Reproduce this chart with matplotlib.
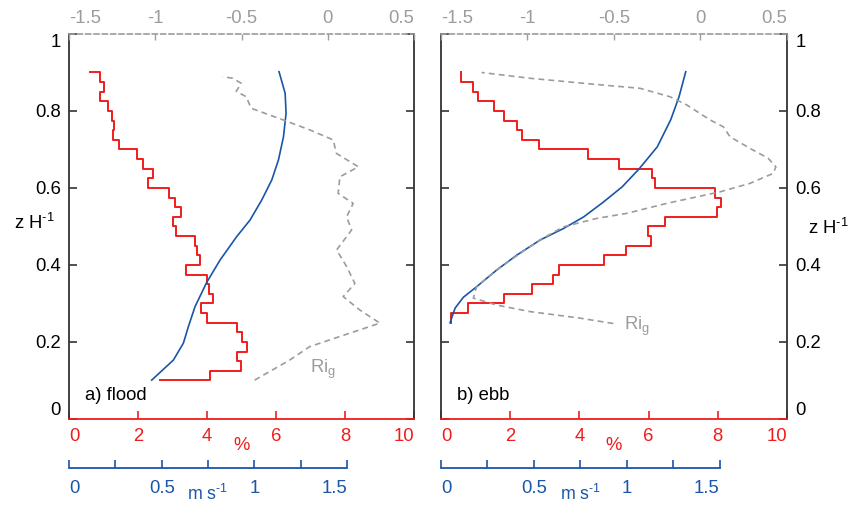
import matplotlib
matplotlib.use("Agg")
import matplotlib.pyplot as plt

plt.rcParams['font.family'] = ['Liberation Sans', 'DejaVu Sans']
plt.rcParams['mathtext.default'] = 'regular'
plt.rcParams['font.size'] = 13.3

RED = '#f01c1c'
BLUE = '#1a55a8'
GRAY = '#9c9c9c'
DARK = '#333333'
SUP = '$^{\u2010 1}$'  # short hyphen, like the original "-1"

# ---- a) flood ----
flood_pct = [0.61, 0.90, 1.01, 0.90, 1.14, 1.24, 1.31, 1.28, 1.46, 1.96, 2.15,
             2.42, 2.30, 2.91, 3.07, 3.24, 3.02, 3.10, 3.65, 3.70, 3.80, 3.39,
             3.99, 4.07, 4.16, 3.82, 4.01, 4.86, 5.02, 5.17, 4.88, 4.98, 4.09, 2.64]
flood_pct_z = [0.900, 0.875, 0.850, 0.825, 0.800, 0.775, 0.750, 0.725, 0.700,
               0.675, 0.650, 0.625, 0.600, 0.575, 0.550, 0.525, 0.500, 0.475,
               0.450, 0.425, 0.400, 0.375, 0.350, 0.325, 0.300, 0.275, 0.250,
               0.225, 0.200, 0.175, 0.150, 0.125, 0.100, 0.100]

flood_u = [0.446, 0.563, 0.617, 0.644, 0.680, 0.743, 0.815, 0.905, 0.977,
           1.040, 1.094, 1.130, 1.157, 1.171, 1.166, 1.133]
flood_u_z = [0.101, 0.153, 0.197, 0.240, 0.292, 0.355, 0.413, 0.474, 0.517,
             0.569, 0.621, 0.673, 0.733, 0.794, 0.846, 0.902]

flood_ri = [-0.424, -0.221, -0.105, 0.128, 0.302, 0.186, 0.089, 0.157, 0.109,
            0.051, 0.138, 0.109, 0.147, 0.060, 0.070, 0.177, 0.050, 0.031,
            -0.105, -0.260, -0.444, -0.473, -0.531, -0.502, -0.551, -0.609]
flood_ri_z = [0.101, 0.153, 0.188, 0.223, 0.249, 0.283, 0.318, 0.352, 0.396,
              0.439, 0.491, 0.525, 0.560, 0.586, 0.629, 0.655, 0.690, 0.725,
              0.751, 0.777, 0.807, 0.837, 0.851, 0.872, 0.885, 0.889]

# ---- b) ebb ----
ebb_pct = [0.57, 0.92, 1.06, 1.53, 1.82, 2.19, 2.33, 2.83, 4.24, 5.15, 6.11,
           6.20, 7.92, 8.08, 7.99, 6.47, 5.97, 6.07, 5.35, 4.71, 3.42, 3.25,
           2.62, 1.82, 0.79, 0.28, 0.28]
ebb_pct_z = [0.900, 0.875, 0.850, 0.825, 0.800, 0.775, 0.750, 0.725, 0.700,
             0.675, 0.650, 0.625, 0.600, 0.575, 0.550, 0.525, 0.500, 0.475,
             0.450, 0.425, 0.400, 0.375, 0.350, 0.325, 0.300, 0.275, 0.250]

ebb_u = [0.049, 0.076, 0.120, 0.193, 0.300, 0.409, 0.534, 0.660, 0.768, 0.870,
         0.975, 1.065, 1.164, 1.236, 1.281, 1.317]
ebb_u_z = [0.250, 0.288, 0.316, 0.344, 0.387, 0.426, 0.465, 0.495, 0.525, 0.562,
           0.603, 0.649, 0.707, 0.777, 0.837, 0.902]

ebb_ri = [-0.504, -0.697, -0.986, -1.178, -1.313, -1.294, -1.178, -1.043, -0.928,
          -0.793, -0.600, -0.427, -0.195, 0.113, 0.286, 0.421, 0.436, 0.392,
          0.286, 0.171, 0.132, 0.055, -0.080, -0.176, -0.350, -0.581, -0.986, -1.265]
ebb_ri_z = [0.248, 0.262, 0.279, 0.296, 0.314, 0.344, 0.387, 0.430, 0.465,
            0.499, 0.521, 0.534, 0.560, 0.590, 0.612, 0.638, 0.655, 0.677,
            0.703, 0.733, 0.759, 0.777, 0.816, 0.837, 0.859, 0.868, 0.885, 0.900]

pct_ticks = [0, 2, 4, 6, 8, 10]
u_ticks = [0, 0.25, 0.5, 0.75, 1, 1.25, 1.5]
u_labels = ['0', '', '0.5', '', '1', '', '1.5']
ri_ticks = [-1.5, -1, -0.5, 0, 0.5]
z_ticks = [0, 0.2, 0.4, 0.6, 0.8, 1]


def end_align(labels, first, last):
    labels[0].set_ha(first)
    labels[-1].set_ha(last)


def panel(rect, pct, pct_z, step, u, u_z, ri, ri_z, name, ri_pos, right_labels):
    ax = fig.add_axes(rect)
    ax.plot(pct, pct_z, color=RED, lw=1.4, drawstyle=step)
    ax.set_xlim(0, 10)
    ax.set_ylim(0, 1)
    ax.set_xticks(pct_ticks, [str(t) for t in pct_ticks])
    ax.tick_params(axis='x', direction='in', length=6, width=1.2, color=RED,
                   labelcolor=RED, pad=6.5)
    end_align(ax.get_xticklabels(), 'left', 'right')
    ax.set_yticks(z_ticks, ['0', '0.2', '0.4', '0.6', '0.8', '1'])
    ax.tick_params(axis='y', direction='in', length=6, width=1.2, color=DARK,
                   left=True, right=True, labelleft=not right_labels,
                   labelright=right_labels, pad=6)
    ylabs = ax.get_yticklabels()
    ylabs[0].set_va('bottom')
    ylabs[-1].set_va('top')
    ax.spines['top'].set_visible(False)
    ax.spines['bottom'].set_color(RED)
    ax.spines['bottom'].set_linewidth(1.3)
    for s in ('left', 'right'):
        ax.spines[s].set_color(DARK)
        ax.spines[s].set_linewidth(1.3)
    ax.set_xlabel('%', color=RED)
    ax.xaxis.set_label_coords(0.5, -0.048)
    if right_labels:
        ax.text(1.061, 0.495, 'z H' + SUP, transform=ax.transAxes,
                ha='left', va='center')
    else:
        ax.text(-0.04, 0.51, 'z H' + SUP, transform=ax.transAxes,
                ha='right', va='center')
    ax.text(0.046, 0.062, name, transform=ax.transAxes, va='center', ha='left')

    # velocity axis below
    axu = ax.twiny()
    axu.plot(u, u_z, color=BLUE, lw=1.2)
    axu.set_xlim(0, 1.5 * 345 / 278)
    axu.xaxis.set_ticks_position('bottom')
    axu.xaxis.set_label_position('bottom')
    for s in ('top', 'left', 'right'):
        axu.spines[s].set_visible(False)
    axu.spines['bottom'].set_position(('outward', 35))
    axu.spines['bottom'].set_bounds(0, 1.5)
    axu.spines['bottom'].set_color(BLUE)
    axu.spines['bottom'].set_linewidth(1.3)
    axu.set_xticks(u_ticks, u_labels)
    axu.tick_params(axis='x', direction='in', length=6, width=1.2, color=BLUE,
                    labelcolor=BLUE, pad=9)
    end_align(axu.get_xticklabels(), 'left', 'right')
    axu.set_xlabel('m s' + SUP, color=BLUE, fontsize=12.8)
    axu.xaxis.set_label_coords(0.5 * 278 / 345, -0.168)

    # Richardson number axis on top
    axr = ax.twiny()
    axr.plot(ri, ri_z, color=GRAY, lw=1.2, ls=(0, (3.5, 2.5)))
    axr.set_xlim(-1.5, 0.5)
    for s in ('bottom', 'left', 'right'):
        axr.spines[s].set_visible(False)
    axr.spines['top'].set_color(GRAY)
    axr.spines['top'].set_linestyle((0, (3, 2)))
    axr.spines['top'].set_linewidth(1.2)
    axr.set_xticks(ri_ticks, ['-1.5', '-1', '-0.5', '0', '0.5'])
    axr.tick_params(axis='x', direction='in', length=4, width=1.0, color=GRAY,
                    labelcolor=GRAY, pad=5)
    end_align(axr.get_xticklabels(), 'left', 'right')
    ax.text(ri_pos[0], ri_pos[1], 'Ri$_g$', transform=ax.transAxes, color=GRAY,
            va='center', ha='left')
    return ax


fig = plt.figure(figsize=(8.49, 5.05), dpi=100)
panel([0.0813, 0.1703, 0.4064, 0.7624], flood_pct, flood_pct_z, 'steps-post',
      flood_u, flood_u_z, flood_ri, flood_ri_z, 'a) flood', (0.699, 0.13), False)
panel([0.5194, 0.1703, 0.4075, 0.7624], ebb_pct, ebb_pct_z, 'steps-pre',
      ebb_u, ebb_u_z, ebb_ri, ebb_ri_z, 'b) ebb', (0.529, 0.24), True)

fig.savefig('out.png', dpi=100)
